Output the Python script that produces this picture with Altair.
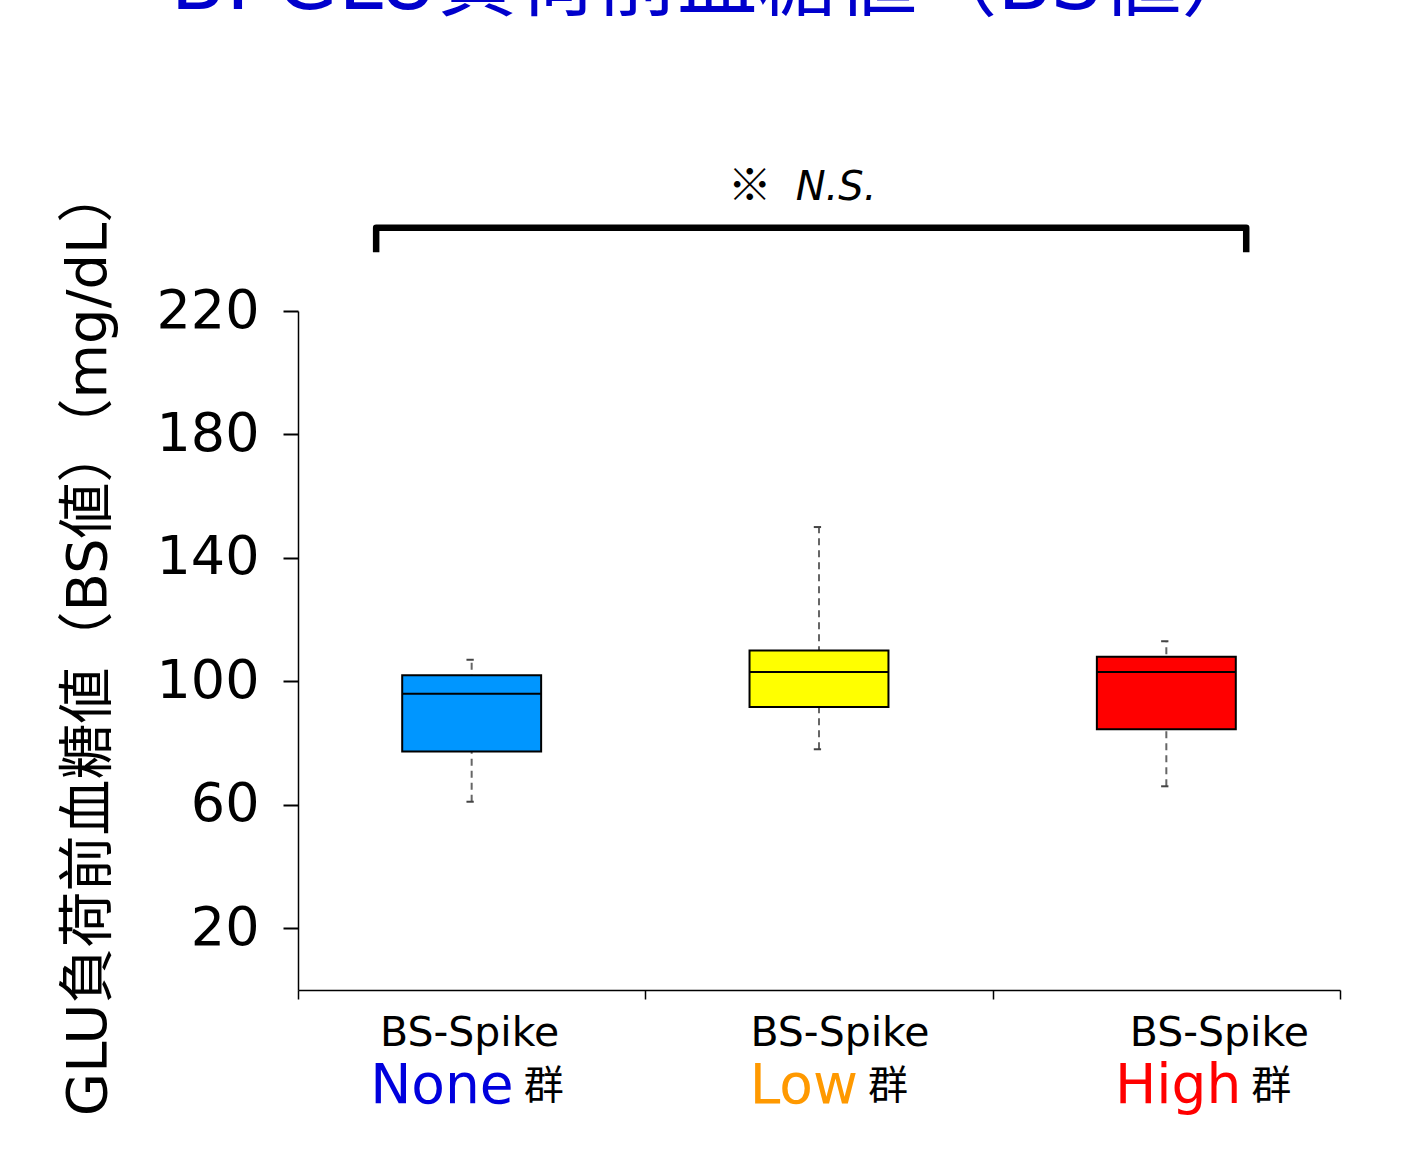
import altair as alt
import pandas as pd

# Summary statistics of the pre-load blood glucose (mg/dL) per group
groups = ["None", "Low", "High"]
name_colors = ["#0000DD", "#FF9900", "#FF0000"]
box_colors = ["#0096FF", "#FFFF00", "#FF0000"]
whisker_low = [61, 78, 66]
q1 = [77.3, 91.7, 84.5]
median = [96, 103, 103]
q3 = [102, 110, 108]
whisker_high = [107, 150, 113]
y_ticks = [20, 60, 100, 140, 180, 220]

LATIN = "DejaVu Sans, Noto Sans CJK JP"
CJK = "Noto Sans CJK JP"

W, H = 1042, 679
PAD = {"left": 298, "top": 311, "right": 70, "bottom": 174}

df = pd.DataFrame({
    "group": groups,
    "pos": [i + 0.5 for i in range(len(groups))],
    "low": whisker_low,
    "q1": q1,
    "median": median,
    "q3": q3,
    "high": whisker_high,
    "box_color": box_colors,
})

x_scale = alt.Scale(domain=[0, 3], nice=False, zero=False)
y_scale = alt.Scale(domain=[0, 220], nice=False, zero=True)

x_axis = alt.Axis(values=[0, 1, 2, 3], labels=False, title=None, grid=False,
                  tickSize=9, tickWidth=1.5, tickColor="black",
                  domainColor="black", domainWidth=1.5)
y_axis = alt.Axis(values=y_ticks, grid=False, tickSize=15, tickWidth=2,
                  tickColor="black", domainColor="black", domainWidth=1.5,
                  labelFont=LATIN, labelFontSize=54, labelColor="black",
                  labelPadding=24,
                  title="GLU負荷前血糖値（BS値）（mg/dL）",
                  titleFont=LATIN, titleFontSize=56, titleFontWeight="normal",
                  titleColor="black", titleX=-210, titleY=330,
                  titleAngle=270, titleAlign="center", titleBaseline="middle")


def X(field, **kw):
    return alt.X(field, type="quantitative", scale=x_scale, axis=x_axis, **kw)


def Y(field, **kw):
    return alt.Y(field, type="quantitative", scale=y_scale, axis=y_axis, **kw)


base = alt.Chart(df).transform_calculate(
    left="datum.pos - 0.2",
    right="datum.pos + 0.2",
    cap_l="datum.pos - 0.015",
    cap_r="datum.pos + 0.006",
)

# dashed whiskers behind the boxes
whiskers = base.mark_rule(color="#666666", strokeWidth=2, strokeDash=[7, 5]).encode(
    x=X("pos"), y=Y("low"), y2="high"
)
caps_top = base.mark_rule(color="#444444", strokeWidth=2).encode(
    x=X("cap_l"), x2="cap_r", y=Y("high")
)
caps_bottom = base.mark_rule(color="#444444", strokeWidth=2).encode(
    x=X("cap_l"), x2="cap_r", y=Y("low")
)
boxes = base.mark_rect(stroke="black", strokeWidth=2).encode(
    x=X("left"), x2="right", y=Y("q1"), y2="q3",
    fill=alt.Fill("box_color:N", scale=None),
)
medians = base.mark_rule(color="black", strokeWidth=2).encode(
    x=X("left"), x2="right", y=Y("median")
)

# significance bracket spanning all three groups
bracket_df = pd.DataFrame({
    "bx": [0.225, 0.225, 2.73, 2.73],
    "by": [239, 247, 247, 239],
    "order": [0, 1, 2, 3],
})
bracket = alt.Chart(bracket_df).mark_line(
    color="black", strokeWidth=6.5, strokeJoin="round", strokeCap="butt"
).encode(x=X("bx"), y=Y("by"), order="order:Q")

ns_df = pd.DataFrame({"tx": [1.45], "ty": [260], "mark": ["※"], "label": ["N.S."]})
ns_mark = alt.Chart(ns_df).mark_text(
    font=CJK, fontSize=44, color="black", align="center", baseline="middle", dx=-52
).encode(x=X("tx"), y=Y("ty"), text="mark:N")
ns_text = alt.Chart(ns_df).mark_text(
    font=LATIN, fontSize=40, fontStyle="italic", color="black",
    align="left", baseline="middle", dx=-6
).encode(x=X("tx"), y=Y("ty"), text="label:N")

# two-line category labels under the x axis
line1_dx = [-2, 21, 53]
name_dx = [42, 39, 75]
label_layers = []
for i, g in enumerate(groups):
    one = alt.Chart(df[df.group == g])
    label_layers.append(one.mark_text(
        font=LATIN, fontSize=41, color="black", align="center",
        baseline="alphabetic", dx=line1_dx[i]
    ).encode(x=X("pos"), y=alt.value(735), text=alt.value("BS-Spike")))
    label_layers.append(one.mark_text(
        font=LATIN, fontSize=55, color=name_colors[i], align="right",
        baseline="alphabetic", dx=name_dx[i]
    ).encode(x=X("pos"), y=alt.value(792), text="group:N"))
    label_layers.append(one.mark_text(
        font=CJK, fontSize=40, color="black", align="left",
        baseline="alphabetic", dx=name_dx[i] + 10
    ).encode(x=X("pos"), y=alt.value(788), text=alt.value("群")))

# chart heading, placed above the plot area
heading = alt.Chart(pd.DataFrame({"t": ["B. GLU負荷前血糖値（BS値）"]})).mark_text(
    font=LATIN, fontSize=80, color="#0000CC", align="center", baseline="alphabetic"
).encode(x=alt.value(418), y=alt.value(-302), text="t:N")

chart = alt.layer(
    whiskers, caps_top, caps_bottom, boxes, medians, bracket, ns_mark, ns_text,
    heading, *label_layers
).properties(
    width=W, height=H,
    autosize=alt.AutoSizeParams(type="none"),
    padding=PAD,
    background="white",
).configure_view(stroke=None)

chart.save("out.html", embed_options={"renderer": "svg", "actions": False})
